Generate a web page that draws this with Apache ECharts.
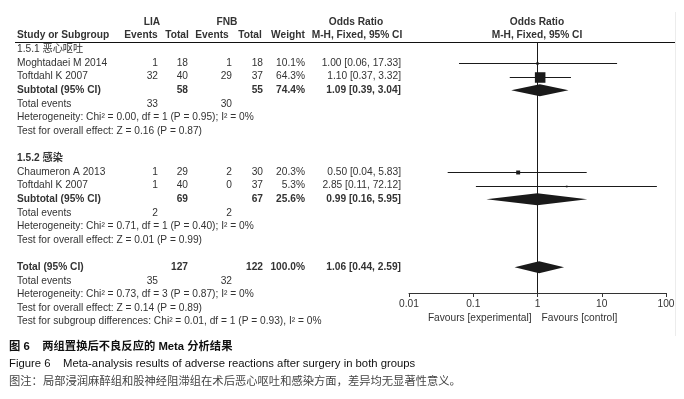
<!DOCTYPE html>
<html><head><meta charset="utf-8">
<script src="https://cdn.jsdelivr.net/npm/echarts@6/dist/echarts.min.js"></script>
<style>html,body{margin:0;padding:0;background:#fff}#c{width:684px;height:399px}</style>
</head><body><div id="c"></div>
<script>
// ---------- data ----------
const studyNames = ['Moghtadaei M 2014', 'Toftdahl K 2007', 'Chaumeron A 2013', 'Toftdahl K 2007'];
const studyRows = [1, 2, 9, 10];
const liaEvents = [1, 32, 1, 1];
const liaTotal = [18, 40, 29, 40];
const fnbEvents = [1, 29, 2, 0];
const fnbTotal = [18, 37, 30, 37];
const studyWeight = [10.1, 64.3, 20.3, 5.3];
const studyOR = [1.00, 1.10, 0.50, 2.85];
const studyLow = [0.06, 0.37, 0.04, 0.11];
const studyHigh = [17.33, 3.32, 5.83, 72.12];

const subgroupNames = ['1.5.1 恶心呕吐', '1.5.2 感染'];
const subgroupRows = [0, 8];
const subLiaTotal = [58, 69];
const subFnbTotal = [55, 67];
const subWeight = [74.4, 25.6];
const subOR = [1.09, 0.99];
const subLow = [0.39, 0.16];
const subHigh = [3.04, 5.95];
const subLiaEvents = [33, 2];
const subFnbEvents = [30, 2];
const subHetero = ['Heterogeneity: Chi² = 0.00, df = 1 (P = 0.95); I² = 0%',
                   'Heterogeneity: Chi² = 0.71, df = 1 (P = 0.40); I² = 0%'];
const subEffect = ['Test for overall effect: Z = 0.16 (P = 0.87)',
                   'Test for overall effect: Z = 0.01 (P = 0.99)'];

const totalRow = 16;
const totLiaTotal = 127, totFnbTotal = 122, totWeight = 100.0;
const totOR = 1.06, totLow = 0.44, totHigh = 2.59;
const totLiaEvents = 35, totFnbEvents = 32;
const totHetero = 'Heterogeneity: Chi² = 0.73, df = 3 (P = 0.87); I² = 0%';
const totEffect = 'Test for overall effect: Z = 0.14 (P = 0.89)';
const subgroupDiff = 'Test for subgroup differences: Chi² = 0.01, df = 1 (P = 0.93), I² = 0%';

const tickLabels = ['0.01', '0.1', '1', '10', '100'];
const favourLeft = 'Favours [experimental]';
const favourRight = 'Favours [control]';

const caption1 = '图 6    两组置换后不良反应的 Meta 分析结果';
const caption2 = 'Figure 6    Meta-analysis results of adverse reactions after surgery in both groups';
const caption3 = '图注：局部浸润麻醉组和股神经阻滞组在术后恶心呕吐和感染方面，差异均无显著性意义。';

// ---------- layout / style ----------
const FF = '"Liberation Sans", Arial, "Noto Sans CJK SC", sans-serif';
const TXT = '#333';
const INK = '#1a1a1a';
const FS = 10.2;
const COL = { study: 17, liaEv: 158, liaTot: 188, fnbEv: 232, fnbTot: 263, weight: 305, or: 401 };

function fmtOR(v, l, h) { return v.toFixed(2) + ' [' + l.toFixed(2) + ', ' + h.toFixed(2) + ']'; }
function fmtW(w) { return w.toFixed(1) + '%'; }

const studyData = studyOR.map((v, i) => [v, studyLow[i], studyHigh[i], studyRows[i], studyWeight[i]]);
const diamondData = subOR.map((v, i) => [v, subLow[i], subHigh[i], subgroupRows[i] + 3])
  .concat([[totOR, totLow, totHigh, totalRow]]);

const option = {
  animation: false,
  backgroundColor: '#fff',
  grid: { left: 409, right: 18, top: 42, bottom: 106 },
  xAxis: {
    type: 'log', logBase: 10, min: 0.01, max: 100, position: 'bottom',
    axisLine: { onZero: false, lineStyle: { color: '#333', width: 1 } },
    axisTick: { show: true, length: 4, lineStyle: { color: '#333' } },
    minorTick: { show: false },
    splitLine: { show: false },
    axisLabel: {
      color: TXT, fontSize: FS, fontFamily: FF, margin: 6,
      formatter: v => tickLabels[Math.round(Math.log10(v)) + 2]
    }
  },
  yAxis: { type: 'value', inverse: true, min: -0.55, max: 17.9, show: false },
  series: [
    {
      type: 'custom', data: studyData, clip: false,
      encode: { x: [0, 1, 2], y: 3 },
      renderItem: function (params, api) {
        const c = api.coord([api.value(0), api.value(3)]);
        const lo = api.coord([api.value(1), api.value(3)]);
        const hi = api.coord([api.value(2), api.value(3)]);
        const y = Math.round(c[1]) + 0.5;
        const s = 0.15 * api.value(4) + 0.9;
        return {
          type: 'group', children: [
            { type: 'line', shape: { x1: lo[0], y1: y, x2: hi[0], y2: y }, style: { stroke: INK, lineWidth: 1 } },
            { type: 'rect', shape: { x: c[0] - s / 2, y: y - s / 2, width: s, height: s }, style: { fill: INK } }
          ]
        };
      }
    },
    {
      type: 'custom', data: diamondData, clip: false,
      encode: { x: [0, 1, 2], y: 3 },
      renderItem: function (params, api) {
        const c = api.coord([api.value(0), api.value(3)]);
        const lo = api.coord([api.value(1), api.value(3)]);
        const hi = api.coord([api.value(2), api.value(3)]);
        const h = 6;
        return {
          type: 'polygon',
          shape: { points: [[lo[0], c[1]], [c[0], c[1] - h], [hi[0], c[1]], [c[0], c[1] + h]] },
          style: { fill: INK }
        };
      },
      markLine: {
        silent: true, symbol: 'none', label: { show: false },
        lineStyle: { color: INK, width: 1, type: 'solid' },
        data: [{ xAxis: 1 }]
      }
    }
  ]
};

const chart = echarts.init(document.getElementById('c'), null, { renderer: 'canvas' });
chart.setOption(option);

function rowY(r) { return chart.convertToPixel({ yAxisIndex: 0 }, r); }
function xOf(v) { return chart.convertToPixel({ xAxisIndex: 0 }, v); }

const g = [];
function T(text, x, y, align, opts) {
  opts = opts || {};
  g.push({
    type: 'text', silent: true, x: x, y: y,
    style: {
      text: text, fill: opts.fill || TXT,
      font: (opts.bold ? 'bold ' : '') + (opts.size || FS) + 'px ' + FF,
      align: align, textAlign: align, verticalAlign: 'middle', textVerticalAlign: 'middle'
    }
  });
}
function L(x1, y1, x2, y2, color) {
  g.push({ type: 'line', silent: true, shape: { x1: x1, y1: y1, x2: x2, y2: y2 }, style: { stroke: color || INK, lineWidth: 1 } });
}

// headers
const h1 = 22, h2 = 35.5;
T('LIA', 152, h1, 'center', { bold: true });
T('FNB', 227, h1, 'center', { bold: true });
T('Odds Ratio', 356, h1, 'center', { bold: true });
T('Study or Subgroup', COL.study, h2, 'left', { bold: true });
T('Events', 141, h2, 'center', { bold: true });
T('Total', 177, h2, 'center', { bold: true });
T('Events', 212, h2, 'center', { bold: true });
T('Total', 250, h2, 'center', { bold: true });
T('Weight', 288, h2, 'center', { bold: true });
T('M-H, Fixed, 95% CI', 357, h2, 'center', { bold: true });
T('Odds Ratio', 537, h1, 'center', { bold: true });
T('M-H, Fixed, 95% CI', 537, h2, 'center', { bold: true });
L(15, 42.5, 675, 42.5, '#111');
L(675.5, 12, 675.5, 336, '#ececec');

// subgroups
subgroupNames.forEach((name, k) => {
  const r0 = subgroupRows[k];
  T(name, COL.study, rowY(r0), 'left', { bold: k === 1 });
  studyRows.forEach((r, i) => {
    if (r <= r0 || r > r0 + 2) return;
    const y = rowY(r);
    T(studyNames[i], COL.study, y, 'left');
    T(String(liaEvents[i]), COL.liaEv, y, 'right');
    T(String(liaTotal[i]), COL.liaTot, y, 'right');
    T(String(fnbEvents[i]), COL.fnbEv, y, 'right');
    T(String(fnbTotal[i]), COL.fnbTot, y, 'right');
    T(fmtW(studyWeight[i]), COL.weight, y, 'right');
    T(fmtOR(studyOR[i], studyLow[i], studyHigh[i]), COL.or, y, 'right');
  });
  let y = rowY(r0 + 3);
  T('Subtotal (95% CI)', COL.study, y, 'left', { bold: true });
  T(String(subLiaTotal[k]), COL.liaTot, y, 'right', { bold: true });
  T(String(subFnbTotal[k]), COL.fnbTot, y, 'right', { bold: true });
  T(fmtW(subWeight[k]), COL.weight, y, 'right', { bold: true });
  T(fmtOR(subOR[k], subLow[k], subHigh[k]), COL.or, y, 'right', { bold: true });
  y = rowY(r0 + 4);
  T('Total events', COL.study, y, 'left');
  T(String(subLiaEvents[k]), COL.liaEv, y, 'right');
  T(String(subFnbEvents[k]), COL.fnbEv, y, 'right');
  T(subHetero[k], COL.study, rowY(r0 + 5), 'left');
  T(subEffect[k], COL.study, rowY(r0 + 6), 'left');
});

// total
let yt = rowY(totalRow);
T('Total (95% CI)', COL.study, yt, 'left', { bold: true });
T(String(totLiaTotal), COL.liaTot, yt, 'right', { bold: true });
T(String(totFnbTotal), COL.fnbTot, yt, 'right', { bold: true });
T(fmtW(totWeight), COL.weight, yt, 'right', { bold: true });
T(fmtOR(totOR, totLow, totHigh), COL.or, yt, 'right', { bold: true });
yt = rowY(totalRow + 1);
T('Total events', COL.study, yt, 'left');
T(String(totLiaEvents), COL.liaEv, yt, 'right');
T(String(totFnbEvents), COL.fnbEv, yt, 'right');
T(totHetero, COL.study, rowY(totalRow + 2), 'left');
T(totEffect, COL.study, rowY(totalRow + 3), 'left');
T(subgroupDiff, COL.study, rowY(totalRow + 4), 'left');

// favours
const x1 = xOf(1);
T(favourLeft, x1 - 6, 318, 'right');
T(favourRight, x1 + 4, 318, 'left');

// captions
T(caption1, 9, 346.5, 'left', { bold: true, size: 11.3, fill: '#111' });
T(caption2, 9, 364, 'left', { size: 11.3, fill: '#111' });
T(caption3, 9, 381.5, 'left', { size: 11.3, fill: '#444' });

chart.setOption({ graphic: { elements: g } });
</script></body></html>
